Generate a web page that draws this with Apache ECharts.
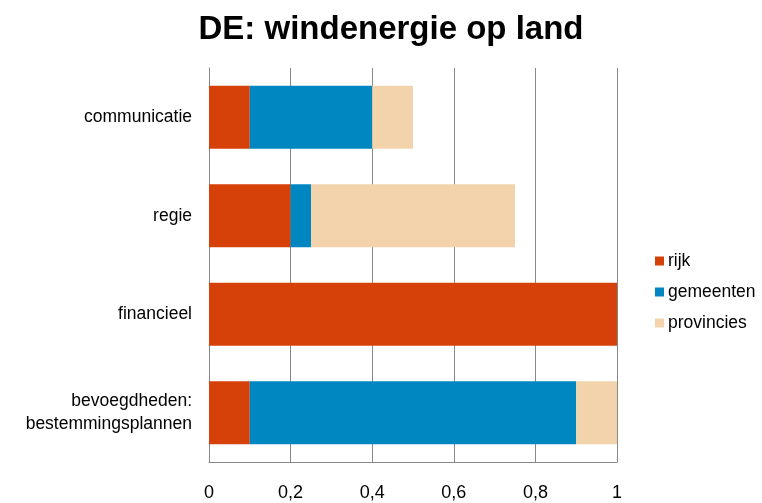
<!DOCTYPE html>
<html><head><meta charset="utf-8">
<script src="https://cdn.jsdelivr.net/npm/echarts@6/dist/echarts.min.js"></script>
<style>html,body{margin:0;padding:0;background:#fff}#c{width:762px;height:503px}</style>
</head><body><div id="c"></div>
<script>
const categories = ['bevoegdheden:\nbestemmingsplannen', 'financieel', 'regie', 'communicatie'];
const seriesNames = ['rijk', 'gemeenten', 'provincies'];
const rijk = [0.1, 1, 0.2, 0.1];
const gemeenten = [0.8, 0, 0.05, 0.3];
const provincies = [0.1, 0, 0.5, 0.1];
const xTicks = [0, 0.2, 0.4, 0.6, 0.8, 1];
const colors = ['#D64009', '#0087C2', '#F2D3AC'];
const font = 'Liberation Sans, Arial, sans-serif';
const chart = echarts.init(document.getElementById('c'));
const vals = [rijk, gemeenten, provincies];
chart.setOption({
  animation: false,
  title: {text: 'DE: windenergie op land', left: 386, top: 8, textAlign: 'center',
    textStyle: {fontFamily: font, fontSize: 33, fontWeight: 'bold', color: '#000'}},
  legend: {orient: 'vertical', left: 650, top: 247, itemWidth: 9, itemHeight: 9, itemGap: 13,
    icon: 'rect', data: seriesNames,
    textStyle: {fontFamily: font, fontSize: 17.5, color: '#000', padding: [0,0,0,-1]}},
  grid: {left: 209, right: 145, top: 68, bottom: 41, containLabel: false},
  xAxis: {type: 'value', min: 0, max: 1, interval: 0.2,
    axisLine: {show: true, lineStyle: {color: '#888'}},
    axisTick: {show: false},
    splitLine: {show: true, lineStyle: {color: '#888', width: 1}},
    axisLabel: {margin: 22, fontFamily: font, fontSize: 18, color: '#000',
      formatter: v => { const t = xTicks.find(x => Math.abs(x - v) < 1e-9); return String(t).replace('.', ','); }}},
  yAxis: {type: 'category', data: categories,
    axisLine: {show: true, lineStyle: {color: '#888'}},
    axisTick: {show: false},
    axisLabel: {margin: 17, fontFamily: font, fontSize: 17.5, color: '#000', align: 'right', lineHeight: 23,
      padding: [6, 0, 0, 0]}},
  series: seriesNames.map((n, i) => ({
    name: n, type: 'bar', stack: 's', data: vals[i], barCategoryGap: '36%',
    itemStyle: {color: colors[i]}
  }))
});
</script></body></html>
